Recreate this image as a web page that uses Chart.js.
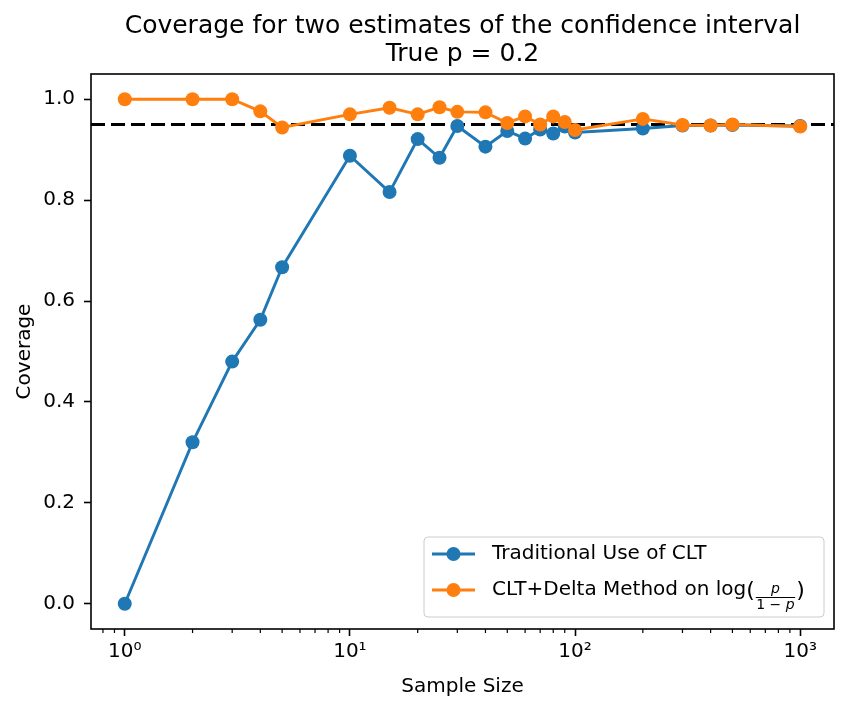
<!DOCTYPE html>
<html>
<head>
<meta charset="utf-8">
<script src="https://cdn.jsdelivr.net/npm/chart.js@4.4.1/dist/chart.umd.min.js"></script>
<style>
  html, body { margin: 0; padding: 0; background: #fff; }
  #wrap { width: 851px; height: 710px; }
</style>
</head>
<body>
<div id="wrap"><canvas id="coverageChart" width="851" height="710"></canvas></div>
<script>
'use strict';

// Data
var sampleSizes = [1, 2, 3, 4, 5, 10, 15, 20, 25, 30, 40, 50, 60, 70, 80, 90, 100, 200, 300, 400, 500, 1000];
var traditionalCoverage = [0.0, 0.320, 0.480, 0.563, 0.667, 0.888, 0.816, 0.921, 0.884, 0.947, 0.906, 0.937,
  0.922, 0.940, 0.932, 0.946, 0.934, 0.942, 0.948, 0.948, 0.949, 0.947];
var deltaCoverage = [1.0, 1.0, 1.0, 0.976, 0.944, 0.970, 0.983, 0.970, 0.984, 0.975, 0.974, 0.953,
  0.966, 0.950, 0.966, 0.955, 0.939, 0.961, 0.949, 0.948, 0.950, 0.946];
var nominalLevel = 0.95;

var xTickValues = [1, 10, 100, 1000];
var xTickLabels = ['10\u2070', '10\u00b9', '10\u00b2', '10\u00b3'];
var xMinorTicks = [0.8, 0.9, 2, 3, 4, 5, 6, 7, 8, 9, 20, 30, 40, 50, 60, 70, 80, 90,
  200, 300, 400, 500, 600, 700, 800, 900];
var yTickValues = [0.0, 0.2, 0.4, 0.6, 0.8, 1.0];

var titleLines = ['Coverage for two estimates of the confidence interval', 'True p = 0.2'];
var xLabel = 'Sample Size';
var yLabel = 'Coverage';
var seriesNames = ['Traditional Use of CLT', 'CLT+Delta Method on log'];
var seriesColors = ['#1f77b4', '#ff7f0e'];

var FONT = "'DejaVu Sans', sans-serif";
var MARKER_R = 7;

function toPoints(ys) {
  return sampleSizes.map(function(x, i) { return { x: x, y: ys[i] }; });
}

// fraction p / (1 - p) for the second legend label
function drawFraction(ctx, x, cy) {
  ctx.font = 'italic 14px ' + FONT;
  var pW = ctx.measureText('p').width;
  ctx.font = '14px ' + FONT;
  var oneW = ctx.measureText('1 \u2212 ').width;
  var denW = oneW + pW;
  var barW = denW + 1;
  var barY = cy + 7;
  ctx.fillRect(x, barY, barW, 1);
  ctx.textBaseline = 'alphabetic';
  ctx.textAlign = 'left';
  ctx.font = 'italic 14px ' + FONT;
  ctx.fillText('p', x + (barW - pW) / 2, barY - 4);
  ctx.font = '14px ' + FONT;
  ctx.fillText('1 \u2212 ', x + 0.5, barY + 12);
  ctx.font = 'italic 14px ' + FONT;
  ctx.fillText('p', x + 0.5 + oneW, barY + 12);
  return barW;
}

var decorPlugin = {
  id: 'decor',
  beforeDatasetsDraw: function(chart) {
    var ctx = chart.ctx, area = chart.chartArea;
    var y = chart.scales.y.getPixelForValue(nominalLevel);
    ctx.save();
    ctx.strokeStyle = '#000';
    ctx.lineWidth = 3;
    ctx.setLineDash([14, 6]);
    ctx.beginPath();
    ctx.moveTo(area.left, y);
    ctx.lineTo(area.right, y);
    ctx.stroke();
    ctx.restore();
  },
  afterDatasetsDraw: function(chart) {
    var ctx = chart.ctx, area = chart.chartArea;
    var xs = chart.scales.x;
    ctx.save();

    // minor ticks on the log axis
    ctx.strokeStyle = '#000';
    ctx.lineWidth = 1.2;
    xMinorTicks.forEach(function(v) {
      var px = xs.getPixelForValue(v);
      if (px < area.left || px > area.right) return;
      ctx.beginPath();
      ctx.moveTo(px, area.bottom);
      ctx.lineTo(px, area.bottom + 4);
      ctx.stroke();
    });

    // frame
    ctx.lineWidth = 1.6;
    ctx.strokeRect(area.left, area.top, area.right - area.left, area.bottom - area.top);

    // legend
    var bx = 424, by = 537, bw = 400, bh = 80, r = 4;
    ctx.beginPath();
    ctx.moveTo(bx + r, by);
    ctx.arcTo(bx + bw, by, bx + bw, by + bh, r);
    ctx.arcTo(bx + bw, by + bh, bx, by + bh, r);
    ctx.arcTo(bx, by + bh, bx, by, r);
    ctx.arcTo(bx, by, bx + bw, by, r);
    ctx.closePath();
    ctx.fillStyle = 'rgba(255,255,255,0.8)';
    ctx.fill();
    ctx.strokeStyle = '#cccccc';
    ctx.lineWidth = 1;
    ctx.stroke();

    var rows = [554, 590];
    seriesNames.forEach(function(name, i) {
      var ry = rows[i];
      ctx.strokeStyle = seriesColors[i];
      ctx.fillStyle = seriesColors[i];
      ctx.lineWidth = 2.9;
      ctx.beginPath();
      ctx.moveTo(432, ry);
      ctx.lineTo(475, ry);
      ctx.stroke();
      ctx.beginPath();
      ctx.arc(453.5, ry, MARKER_R, 0, Math.PI * 2);
      ctx.fill();

      ctx.fillStyle = '#000';
      ctx.font = '20px ' + FONT;
      ctx.textAlign = 'left';
      ctx.textBaseline = 'middle';
      ctx.fillText(name, 492, ry);
      if (i === 1) {
        var tx = 492 + ctx.measureText(name).width;
        ctx.font = '22px ' + FONT;
        ctx.fillText('(', tx, ry + 1);
        tx += ctx.measureText('(').width + 1;
        var fw = drawFraction(ctx, tx, ry);
        ctx.font = '22px ' + FONT;
        ctx.textBaseline = 'middle';
        ctx.fillText(')', tx + fw + 1, ry + 1);
      }
    });

    // title and axis labels
    ctx.fillStyle = '#000';
    ctx.textAlign = 'center';
    ctx.textBaseline = 'alphabetic';
    var cx = (area.left + area.right) / 2;
    ctx.font = '25px ' + FONT;
    ctx.fillText(titleLines[0], cx, 33);
    ctx.fillText(titleLines[1], cx, 61);

    ctx.font = '20px ' + FONT;
    ctx.fillText(xLabel, cx, 692);

    ctx.translate(30, (area.top + area.bottom) / 2);
    ctx.rotate(-Math.PI / 2);
    ctx.fillText(yLabel, 0, 0);
    ctx.restore();
  }
};

var datasets = [traditionalCoverage, deltaCoverage].map(function(ys, i) {
  return {
    label: seriesNames[i],
    data: toPoints(ys),
    borderColor: seriesColors[i],
    backgroundColor: seriesColors[i],
    borderWidth: 2.9,
    pointRadius: MARKER_R,
    pointBorderWidth: 0,
    pointBackgroundColor: seriesColors[i],
    tension: 0,
    fill: false,
    order: 2 - i
  };
});

new Chart(document.getElementById('coverageChart'), {
  type: 'line',
  data: { datasets: datasets },
  plugins: [decorPlugin],
  options: {
    responsive: false,
    animation: false,
    devicePixelRatio: 1,
    layout: { padding: { top: 74, right: 17, bottom: 0, left: 0 } },
    plugins: {
      legend: { display: false },
      title: { display: false },
      tooltip: { enabled: false }
    },
    scales: {
      x: {
        type: 'logarithmic',
        min: 0.708,
        max: 1413,
        bounds: 'data',
        afterBuildTicks: function(scale) {
          scale.ticks = xTickValues.map(function(v) { return { value: v }; });
        },
        afterFit: function(scale) { scale.height = 81; },
        border: { display: false },
        grid: { drawOnChartArea: false, drawTicks: true, tickLength: 7, tickWidth: 1.6, tickColor: '#000' },
        ticks: {
          autoSkip: false,
          maxRotation: 0,
          padding: 4,
          color: '#000',
          font: { family: FONT, size: 20 },
          callback: function(value, index) { return xTickLabels[index]; }
        }
      },
      y: {
        type: 'linear',
        min: -0.05,
        max: 1.05,
        bounds: 'data',
        afterBuildTicks: function(scale) {
          scale.ticks = yTickValues.map(function(v) { return { value: v }; });
        },
        afterFit: function(scale) { scale.width = 91; },
        border: { display: false },
        grid: { drawOnChartArea: false, drawTicks: true, tickLength: 7, tickWidth: 1.6, tickColor: '#000' },
        ticks: {
          padding: 9,
          color: '#000',
          font: { family: FONT, size: 20 },
          callback: function(value) { return Number(value).toFixed(1); }
        }
      }
    }
  }
});
</script>
</body>
</html>
